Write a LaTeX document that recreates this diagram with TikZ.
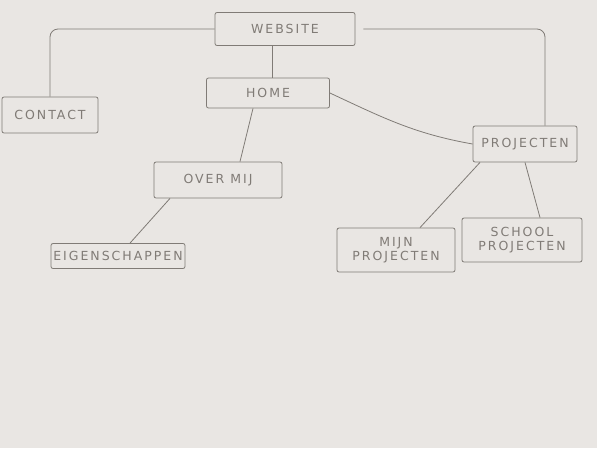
\documentclass[tikz,border=0pt]{standalone}
\usepackage{fontspec}
\newfontfamily\handfont[LetterSpace=16]{DejaVu Sans}
\usetikzlibrary{positioning}
\definecolor{paper}{RGB}{233,230,227}
\definecolor{pencil}{RGB}{128,123,118}

\begin{document}
\begin{tikzpicture}[
    x=1pt, y=-1pt,
    every node/.style={font=\handfont\fontsize{12.5}{14}\selectfont, text=pencil},
    box/.style={rectangle, rounded corners=2pt, draw=pencil, line width=0.8pt, align=center, inner sep=1pt},
    link/.style={draw=pencil, line width=0.8pt, rounded corners=8pt}
]

% paper
\fill[paper] (0,0) rectangle (597,448);

% pages
\node[box, minimum width=140pt, minimum height=33pt] (website) at (285,29) {WEBSITE};
\node[box, minimum width=123pt, minimum height=30pt] (home) at (268,93) {HOME};
\node[box, minimum width=96pt, minimum height=36pt] (contact) at (50,115) {CONTACT};
\node[box, minimum width=104pt, minimum height=36pt] (proj) at (525,144) {PROJECTEN};
\node[box, minimum width=128pt, minimum height=36pt] (over) at (218,180) {OVER MIJ};
\node[box, minimum width=134pt, minimum height=25pt] (eigen) at (118,256) {EIGENSCHAPPEN};
\node[box, minimum width=118pt, minimum height=44pt] (mijn) at (396,250) {MIJN\\PROJECTEN};
\node[box, minimum width=120pt, minimum height=44pt] (school) at (522,240) {SCHOOL\\PROJECTEN};

% links
\draw[link] (website.west) -| (contact.north);
\draw[link] ([xshift=8pt]website.east) -| ([xshift=20pt]proj.north);
\draw[link] ([xshift=-13pt]website.south) -- ([xshift=4pt]home.north);
\draw[link] (home.east) to[out=-25, in=170] (proj.west);
\draw[link] ([xshift=-15pt]home.south) -- ([xshift=22pt]over.north);
\draw[link] ([xshift=-48pt]over.south) -- ([xshift=12pt]eigen.north);
\draw[link] ([xshift=-45pt]proj.south) -- ([xshift=24pt]mijn.north);
\draw[link] (proj.south) -- ([xshift=18pt]school.north);

\end{tikzpicture}
\end{document}
